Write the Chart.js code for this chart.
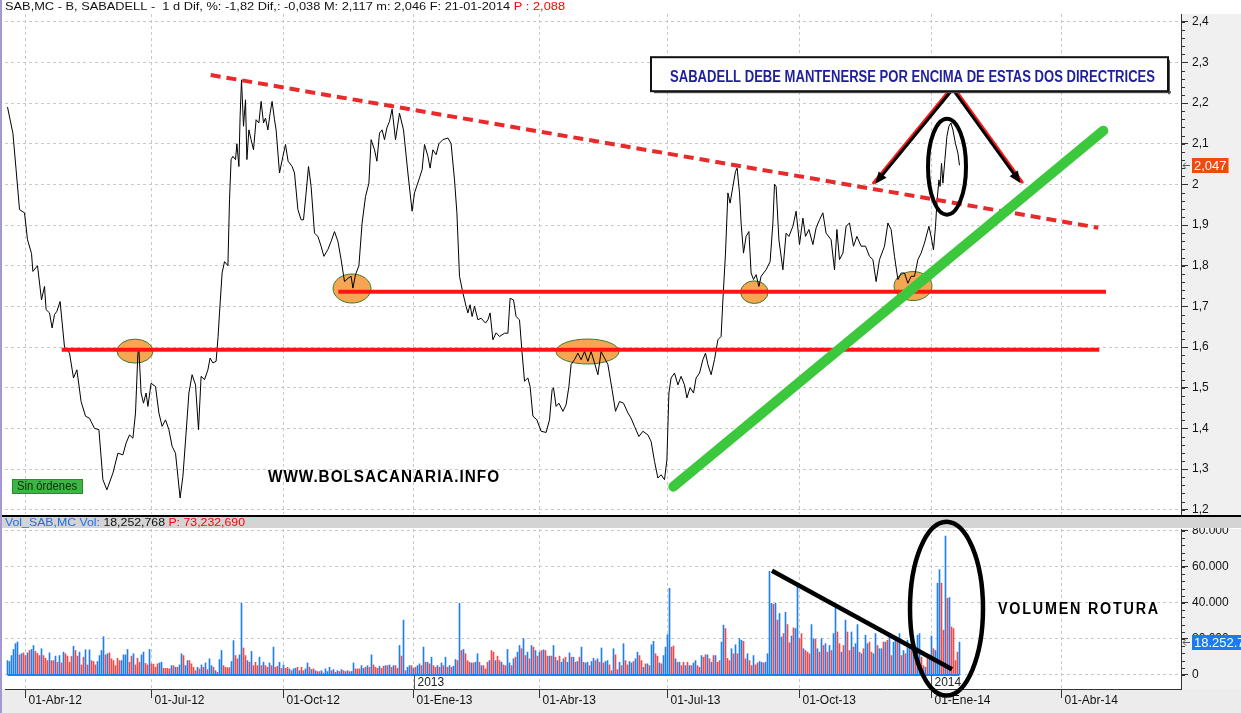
<!DOCTYPE html>
<html lang="es">
<head>
<meta charset="utf-8">
<title>SAB.MC - Sabadell</title>
<script src="https://cdn.jsdelivr.net/npm/chart.js@4.4.1/dist/chart.umd.min.js"></script>
<style>
  html, body { margin: 0; padding: 0; background: #fff; overflow: hidden; }
  #caja_precio { position: absolute; left: 0; top: 0; width: 1241px; height: 515px; }
  #caja_volumen { position: absolute; left: 0; top: 515px; width: 1241px; height: 198px; }
</style>
</head>
<body>
<div id="caja_precio"><canvas id="grafico_precio"></canvas></div>
<div id="caja_volumen"><canvas id="grafico_volumen"></canvas></div>
<script>
var fuente = '"Liberation Sans", Arial, sans-serif';

// eje de tiempo: dias de sesion desde el inicio de la serie
var trimestreDias = [9, 72, 138, 203, 266, 330, 396, 462, 527];
var trimestreEtiquetas = ['01-Abr-12', '01-Jul-12', '01-Oct-12', '01-Ene-13', '01-Abr-13', '01-Jul-13', '01-Oct-13', '01-Ene-14', '01-Abr-14'];
var anioDias = [203, 462];
var anioEtiquetas = ['2013', '2014'];

var precioTicks = [1.2, 1.3, 1.4, 1.5, 1.6, 1.7, 1.8, 1.9, 2.0, 2.1, 2.2, 2.3, 2.4];
var precioEtiquetas = ['1,2', '1,3', '1,4', '1,5', '1,6', '1,7', '1,8', '1,9', '2', '2,1', '2,2', '2,3', '2,4'];
var volumenTicks = [0, 20, 40, 60, 80];
var volumenEtiquetas = ['0', '20.000', '40.000', '60.000', '80.000'];

// cierre diario (EUR)
var precioDias = [
  0, 2.7, 4.3, 6, 8.5, 10, 12, 12.7, 15, 17,
  18.5, 19.3, 21, 22.3, 23.5, 24.7, 26.3, 28.5, 31, 33,
  34.7, 36.8, 39, 41, 43.5, 45.7, 47.7, 49.7, 52.7, 55.2,
  57.7, 59.3, 61, 62.7, 64, 65.2, 65.7, 66.8, 68, 69.3,
  70.2, 71.8, 74, 75.7, 77.3, 79, 80.7, 82.3, 84, 85.2,
  86.3, 87.7, 89.3, 90.7, 92.3, 94, 95.5, 96.8, 98.5, 100.2,
  101.3, 102.7, 104.3, 105.3, 106, 107.3, 108.5, 110.2, 111, 111.8,
  112.7, 114, 114.7, 115.7, 116.3, 117, 118, 119, 119.7, 120.7,
  121.8, 123, 124.3, 125.7, 126.8, 128, 129, 130.2, 131.3, 132.3,
  133.5, 134.3, 136, 137.7, 139, 140.3, 142.3, 143.5, 145.2, 146.8,
  148, 149.3, 150.5, 151.8, 153.5, 155.2, 156.8, 158.2, 160.2, 161.8,
  163.5, 165.2, 166.8, 168.5, 170.2, 171.8, 172.7, 174, 175.7, 177.3,
  179, 180.7, 181.8, 183.5, 184.7, 186, 187.3, 188.5, 189.7, 191,
  192.3, 194, 196, 198, 200.2, 202.3, 203.5, 206, 207.3, 208.5,
  210.2, 211.3, 212.7, 214.3, 215.7, 217.7, 220.2, 221.8, 223.5, 224.7,
  226, 227.7, 229.3, 230.2, 231.3, 232.3, 233.5, 235.2, 236.8, 239,
  240.2, 241.3, 242.7, 244.3, 246, 248.5, 250.2, 251.3, 253, 254.3,
  256, 257.3, 258.5, 260.2, 261.3, 262.7, 264.7, 266.8, 269.3, 271,
  272.3, 273, 274.3, 275.7, 277.7, 279.3, 280.7, 281.8, 283.5, 285.2,
  286.8, 288.5, 290.2, 291.8, 293.5, 295.2, 296.8, 298.5, 300.2, 302.3,
  304, 306, 308, 310.2, 311.8, 313.5, 315.7, 317.7, 320.2, 321.8,
  323.5, 325.2, 326.8, 328.5, 329.7, 330.7, 331.8, 333.5, 335.2, 336.8,
  338.5, 339.7, 341.3, 343, 344.3, 346, 347.7, 349, 350.2, 351.8,
  353.5, 355.2, 356.8, 357.7, 359, 360.2, 361.3, 362.7, 364, 364.8,
  366, 366.8, 368, 369.3, 370.7, 371.8, 373, 374.3, 375.7, 376.8,
  379.3, 381.3, 382.7, 383.5, 384.3, 385.7, 387.7, 389.3, 390.7, 392.7,
  394.3, 396, 397.7, 399, 400.7, 402.7, 404.3, 406, 407.7, 409.3,
  411.8, 413.5, 414.7, 416, 417.7, 419.3, 421, 423, 424.7, 426.8,
  429, 431, 432.7, 434.3, 436, 438.5, 440.2, 441.8, 443.5, 445.2,
  446.8, 448.5, 450.2, 451.8, 453.5, 455.2, 456.8, 458.5, 460.7, 461.8,
  463, 464, 464.7, 465.7, 466.3, 467, 467.7, 468.7, 469.7, 470.7,
  471.7, 472.7, 474, 475.2, 476
];
var precioValores = [
  2.19, 2.126, 2.036, 1.938, 1.93, 1.864, 1.83, 1.786, 1.80, 1.716,
  1.749, 1.692, 1.684, 1.647, 1.68, 1.688, 1.712, 1.60, 1.585, 1.524,
  1.544, 1.466, 1.43, 1.425, 1.40, 1.397, 1.274, 1.249, 1.29, 1.339,
  1.335, 1.364, 1.384, 1.376, 1.438, 1.585, 1.593, 1.487, 1.462, 1.487,
  1.454, 1.511, 1.503, 1.438, 1.405, 1.421, 1.397, 1.356, 1.339, 1.282,
  1.229, 1.282, 1.389, 1.487, 1.532, 1.507, 1.397, 1.528, 1.52, 1.544,
  1.573, 1.561, 1.565, 1.626, 1.684, 1.782, 1.81, 1.80, 1.962, 2.061,
  2.069, 2.061, 2.10, 2.044, 2.167, 2.257, 2.143, 2.208, 2.061, 2.134,
  2.11, 2.085, 2.159, 2.151, 2.204, 2.151, 2.163, 2.134, 2.175, 2.204,
  2.159, 2.134, 2.028, 2.069, 2.098, 2.057, 2.044, 2.028, 1.938, 1.913,
  1.913, 1.979, 2.044, 1.995, 1.88, 1.872, 1.848, 1.823, 1.84, 1.86,
  1.884, 1.86, 1.815, 1.761, 1.769, 1.774, 1.745, 1.778, 1.80, 1.905,
  1.97, 2.003, 2.11, 2.085, 2.057, 2.126, 2.134, 2.11, 2.139, 2.155,
  2.185, 2.11, 2.175, 2.134, 2.028, 1.934, 1.979, 2.016, 2.036, 2.098,
  2.069, 2.04, 2.085, 2.073, 2.10, 2.11, 2.114, 2.10, 2.011, 1.93,
  1.774, 1.733, 1.70, 1.684, 1.704, 1.675, 1.70, 1.667, 1.671, 1.659,
  1.667, 1.684, 1.618, 1.635, 1.626, 1.634, 1.634, 1.72, 1.716, 1.675,
  1.667, 1.585, 1.516, 1.524, 1.503, 1.43, 1.421, 1.393, 1.39, 1.421,
  1.495, 1.5, 1.454, 1.462, 1.442, 1.458, 1.503, 1.557, 1.569, 1.585,
  1.569, 1.589, 1.565, 1.589, 1.561, 1.532, 1.589, 1.573, 1.557, 1.495,
  1.442, 1.466, 1.462, 1.438, 1.425, 1.405, 1.38, 1.393, 1.384, 1.368,
  1.319, 1.278, 1.286, 1.274, 1.323, 1.487, 1.524, 1.536, 1.507, 1.528,
  1.507, 1.475, 1.50, 1.487, 1.524, 1.536, 1.569, 1.585, 1.557, 1.532,
  1.569, 1.618, 1.626, 1.716, 1.831, 1.979, 1.954, 1.995, 2.032, 2.04,
  1.979, 1.905, 1.831, 1.872, 1.884, 1.782, 1.766, 1.778, 1.749, 1.774,
  1.79, 1.81, 1.905, 2.0, 1.995, 1.864, 1.79, 1.88, 1.872, 1.897,
  1.934, 1.852, 1.917, 1.872, 1.889, 1.852, 1.893, 1.913, 1.93, 1.88,
  1.864, 1.79, 1.889, 1.815, 1.831, 1.897, 1.905, 1.848, 1.872, 1.848,
  1.848, 1.823, 1.815, 1.761, 1.815, 1.848, 1.905, 1.889, 1.823, 1.766,
  1.782, 1.782, 1.757, 1.774, 1.774, 1.815, 1.831, 1.856, 1.897, 1.872,
  1.839, 1.897, 1.954, 2.011, 1.995, 2.052, 2.003, 2.061, 2.118, 2.143,
  2.151, 2.134, 2.10, 2.077, 2.047
];

// volumen diario en millones de titulos, una sesion por valor
var volumen = [
  8.0, 7.5, 10.8, 14.2, 17.4, 18.3, 11.2, 11.8, 12.3, 10.8,
  12.3, 13.6, 14.2, 16.4, 13.1, 12.0, 10.8, 14.6, 10.8, 9.3,
  8.0, 12.3, 8.0, 8.0, 10.5, 7.1, 10.8, 6.7, 12.7,
  11.8, 10.5, 7.1, 10.3, 16.0, 13.6, 10.5, 12.7, 5.6, 9.9,
  14.0, 5.6, 14.0, 8.0, 7.5, 5.6, 7.5, 10.8, 13.6,
  21.3, 11.2, 11.8, 12.3, 9.0, 8.0, 5.2, 9.3, 8.0, 8.0,
  11.2, 11.2, 14.2, 7.1, 10.5, 11.8, 5.6, 9.3, 7.1, 11.2,
  12.7, 6.5, 5.6, 14.2, 6.2, 6.0, 4.3, 6.2, 6.7,
  7.1, 3.7, 3.7, 3.7, 3.4, 5.2, 5.2, 4.3, 4.3, 5.6,
  11.8, 10.8, 5.2, 8.0, 8.0, 6.2, 4.3, 2.4, 4.3,
  3.4, 5.6, 4.3, 6.7, 3.0, 9.0, 5.2, 4.3, 2.4,
  1.5, 8.6, 13.6, 5.2, 4.3, 4.1, 4.1, 7.5, 19.1, 10.8,
  9.0, 11.2, 39.8, 15.0, 10.8, 8.0, 7.1, 13.1, 5.2, 7.1,
  5.2, 9.9, 5.2, 7.1, 5.2, 4.3, 6.7, 5.2, 15.5, 4.3,
  4.9, 7.1, 3.7, 5.6, 3.7, 4.3, 3.4, 2.4, 3.4,
  3.7, 4.3, 2.4, 4.3, 2.4, 3.4, 6.7, 4.3, 3.0, 3.4,
  2.4, 1.9, 1.9, 2.4, 1.1, 3.4, 1.9, 4.3, 2.4,
  3.0, 1.5, 2.4, 1.9, 3.0, 2.4, 1.9, 2.4, 1.9,
  1.9, 6.7, 3.4, 3.4, 3.4, 5.2, 3.7, 4.3, 5.2, 4.3,
  11.2, 5.6, 4.3, 3.7, 4.9, 3.7, 4.9, 5.2, 5.2,
  5.6, 4.3, 5.2, 5.2, 3.7, 16.4, 10.5, 30.5, 2.4, 4.3,
  5.2, 5.2, 3.7, 4.3, 5.2, 6.2, 5.2, 15.5, 7.1,
  7.1, 6.2, 9.9, 5.2, 4.3, 5.2, 4.3, 6.7, 5.2, 9.9,
  4.3, 5.2, 4.3, 4.9, 8.6, 8.0, 39.8, 13.6, 14.2, 11.8,
  8.0, 7.1, 6.7, 6.7, 7.1, 11.8, 7.1, 5.2, 5.2, 3.4,
  7.1, 8.0, 13.6, 12.7, 8.0, 10.5, 8.0, 7.1, 5.6,
  5.2, 14.2, 6.7, 5.2, 9.0, 9.9, 12.7, 16.4, 14.6,
  20.2, 10.8, 12.7, 9.0, 16.4, 15.5, 13.6, 10.5, 12.7, 13.6,
  14.0, 13.6, 10.5, 10.5, 10.5, 16.4, 9.9, 8.0, 10.5, 7.1,
  9.0, 9.9, 7.1, 12.3, 9.9, 9.9, 7.1, 7.5, 9.9,
  15.5, 7.1, 6.7, 7.1, 5.2, 7.5, 9.3, 8.0, 9.0, 7.1,
  15.0, 6.7, 7.5, 8.0, 5.6, 2.4, 14.6, 11.2, 3.0, 7.1,
  5.2, 17.4, 8.0, 5.6, 7.5, 6.7, 7.5, 9.0, 12.7,
  10.8, 8.0, 4.3, 6.2, 6.2, 5.2, 16.8, 18.7, 11.8, 10.5,
  6.7, 6.2, 10.8, 15.5, 22.4, 48.2, 15.5, 16.1, 9.0, 7.1,
  7.1, 5.2, 7.1, 5.2, 7.1, 5.2, 5.2, 6.7, 8.0, 5.2,
  4.3, 10.8, 9.9, 11.2, 11.2, 9.0, 7.1, 10.8, 10.8,
  7.1, 8.0, 18.3, 27.7, 25.8, 9.3, 8.0, 14.6, 11.8, 16.8,
  11.8, 20.2, 19.3, 18.7, 9.0, 11.8, 8.0, 5.2, 10.8, 5.6,
  6.7, 7.5, 7.1, 6.7, 7.1, 11.8, 57.6, 39.8, 39.3,
  39.8, 30.5, 34.2, 21.1, 23.0, 34.8, 28.0, 17.9, 21.7,
  26.2, 25.8, 50.1, 20.2, 23.0, 14.6, 13.6, 12.7, 11.8, 28.0,
  20.2, 19.8, 14.6, 12.7, 20.2, 16.4, 17.4, 12.7, 16.4,
  13.6, 23.0, 37.0, 23.9, 17.4, 12.7, 16.4, 30.5, 23.9, 13.6,
  23.9, 15.5, 17.4, 28.0, 12.7, 11.8, 14.6, 22.1, 17.4, 18.3,
  12.7, 11.8, 23.0, 16.4, 14.6, 14.6, 18.3, 18.3, 19.3,
  21.1, 10.8, 18.3, 20.2, 19.3, 23.0, 10.8, 13.6, 11.8, 19.3,
  16.4, 16.4, 14.6, 15.5, 22.1, 23.0, 9.9, 5.2, 4.3,
  10.8, 11.2, 21.7, 14.6, 13.6, 51.0, 58.5, 51.0, 24.9, 77.2,
  42.6, 43.0, 26.7, 25.8, 8.0, 12.7, 18.252768
];
// B = sesion alcista (azul), R = bajista (rojo)
var volumenColor = (
  'BBBBBBRBRR' + 'BRBBRRRBRR' + 'RBRRBRBRB' + 'RRRRBRRBRR' + 'BRBRRRBBB' +
  'BRBRRRRRRB' + 'BBBRRBRRRB' + 'BRRBRRRRB' + 'BRRRRBRBRB' + 'BRBBRRRRB' +
  'RBRBRBBRB' + 'RBBRRRRBBR' + 'RBBRRBRBRR' + 'RBRBRRBRBR' + 'RBRBRRBRB' +
  'BRBRRBBRBR' + 'BRRBRBBBR' + 'BRBRBRRBR' + 'BBRRRBBRBR' + 'BRRRBRRBR' +
  'BRBRRBRBRB' + 'BRBRBBRBR' + 'BRBRRBRBRB' + 'RBRBBRBRBR' + 'RRBRBBRBRR' +
  'RBRRBRRBR' + 'RBBRBRBBR' + 'BRBRBRBRBR' + 'BRRBRBRBRB' + 'BRBBRBRBR' +
  'BRBBRBBRBR' +
  'BRBBRRBRRB' + 'RBRRBBRBB' + 'RRBRBRBBRR' + 'BRBBBBRRBR' + 'BRRBRBRBBR' +
  'RBRRBRBRB' + 'RRBBRRRBRB' + 'RBBRRBRRBR' + 'RBBRBBBBR' + 'BRBBRBRRB' +
  'RBBRRBRRRB' + 'BRBRBRBRB' + 'RBBRRBRBRR' + 'BRBBRBRBBR' + 'RBBRBBRBR' +
  'BRBBRBRBRB' + 'BRBRBBRRB' + 'RBBRBBBRRB' + 'RBRRRRB'
).split('');

// directrices y marcas dibujadas sobre el grafico
var resistenciaDias = [101.6, 545.4];
var resistenciaPrecios = [2.269, 1.8935];
var soporteAltoDias = [165.4, 549.25];
var soporteAltoPrecios = [1.736, 1.736];
var soporteBajoDias = [27.1, 545.9];
var soporteBajoPrecios = [1.5935, 1.5935];
var directrizDias = [332.9, 547.9];
var directrizPrecios = [1.2567, 2.132];
var elipseDias = [63.75, 172.25, 290, 373.4, 452.75];
var elipsePrecios = [1.590, 1.744, 1.589, 1.735, 1.750];
var elipseRadioDias = [9, 9.5, 15.75, 6.85, 9.5];
var elipseRadioPrecios = [0.0295, 0.0357, 0.0307, 0.0278, 0.0357];
var volTendenciaDias = [382.25, 472.25];
var volTendenciaValores = [57.9, 3.2];

var azul = '#1f7ff0';
var rojo = '#f24848';

function pares(xs, ys) {
  return xs.map(function (x, i) { return { x: x, y: ys[i] }; });
}

function ejeX(conEtiquetas) {
  return {
    type: 'linear', min: -1.25, max: 586.75, offset: false,
    afterBuildTicks: function (s) { s.ticks = trimestreDias.map(function (v) { return { value: v }; }); },
    afterFit: function (s) { s.height = conEtiquetas ? 24 : 0; s.paddingLeft = 0; s.paddingRight = 0; },
    grid: { offset: false, color: '#c8c8c8', drawTicks: conEtiquetas, tickLength: 9, tickColor: '#333', tickBorderDash: [] },
    border: { display: conEtiquetas, color: '#333', dash: [3, 3] },
    ticks: {
      display: conEtiquetas, autoSkip: false, maxRotation: 0, align: 'start', labelOffset: 3, padding: -5,
      color: '#111', font: { family: fuente, size: 12 },
      callback: function (v, i) { return trimestreEtiquetas[i]; }
    }
  };
}

function ejeY(min, max, ticks, etiquetas) {
  return {
    position: 'right', min: min, max: max,
    afterBuildTicks: function (s) { s.ticks = ticks.map(function (v) { return { value: v }; }); },
    afterFit: function (s) { s.width = 60; s.paddingTop = 0; s.paddingBottom = 0; },
    grid: { color: '#c8c8c8', tickLength: 7, tickColor: '#333', tickBorderDash: [] },
    border: { display: true, color: '#333', dash: [3, 3] },
    ticks: {
      autoSkip: false, padding: 4, color: '#111', font: { family: fuente, size: 12 },
      callback: function (v, i) { return etiquetas[i]; }
    }
  };
}

function textoAncho(ctx, texto, x, y, ancho, font, color, espaciado) {
  ctx.save();
  ctx.font = font;
  ctx.letterSpacing = espaciado || '0px';
  var w = ctx.measureText(texto).width;
  ctx.translate(x, y);
  ctx.scale(ancho / w, 1);
  ctx.fillStyle = color;
  ctx.textAlign = 'left';
  ctx.textBaseline = 'middle';
  ctx.fillText(texto, 0, 0);
  ctx.restore();
}

function cabecera(ctx, partes, x, y, ancho) {
  ctx.save();
  ctx.font = '11px ' + fuente;
  var total = 0;
  partes.forEach(function (p) { total += ctx.measureText(p[0]).width; });
  ctx.translate(x, y);
  ctx.scale(ancho / total, 1);
  ctx.textBaseline = 'middle';
  var pos = 0;
  partes.forEach(function (p) {
    ctx.fillStyle = p[1];
    ctx.fillText(p[0], pos, 0);
    pos += ctx.measureText(p[0]).width;
  });
  ctx.restore();
}

function marcasMenores(ctx, escala, x0, desde, hasta, paso) {
  ctx.save();
  ctx.strokeStyle = '#333';
  ctx.lineWidth = 1;
  for (var v = desde; v <= hasta + 1e-9; v += paso) {
    var py = Math.round(escala.getPixelForValue(v)) + 0.5;
    ctx.beginPath();
    ctx.moveTo(x0, py);
    ctx.lineTo(x0 + 4, py);
    ctx.stroke();
  }
  ctx.restore();
}

function etiquetaValor(ctx, x0, py, texto, fondo) {
  ctx.save();
  ctx.strokeStyle = '#555';
  ctx.lineWidth = 1;
  ctx.beginPath();
  ctx.moveTo(x0 + 2, py + 0.5); ctx.lineTo(x0 + 9, py + 0.5);
  ctx.moveTo(x0 + 5, py - 2.5); ctx.lineTo(x0 + 2, py + 0.5); ctx.lineTo(x0 + 5, py + 3.5);
  ctx.stroke();
  ctx.font = '13px ' + fuente;
  var w = ctx.measureText(texto).width;
  ctx.fillStyle = fondo;
  ctx.fillRect(x0 + 11, py - 7, w + 4, 15);
  ctx.fillStyle = '#fff';
  ctx.textBaseline = 'middle';
  ctx.fillText(texto, x0 + 13, py + 1);
  ctx.restore();
}

function flecha(ctx, x1, y1, x2, y2, lado) {
  var ang = Math.atan2(y2 - y1, x2 - x1);
  ctx.save();
  ctx.lineCap = 'round';
  ctx.strokeStyle = '#ff1a1a';
  ctx.lineWidth = 3;
  ctx.beginPath();
  ctx.moveTo(x1 + lado * 1.5, y1 - 1);
  ctx.lineTo(x2 + lado * 1.5, y2 - 1);
  ctx.stroke();
  ctx.strokeStyle = '#000';
  ctx.lineWidth = 3;
  ctx.beginPath();
  ctx.moveTo(x1, y1);
  ctx.lineTo(x2 - 6 * Math.cos(ang), y2 - 6 * Math.sin(ang));
  ctx.stroke();
  ctx.fillStyle = '#000';
  ctx.beginPath();
  ctx.moveTo(x2, y2);
  ctx.lineTo(x2 - 12 * Math.cos(ang) + 5 * Math.sin(ang), y2 - 12 * Math.sin(ang) - 5 * Math.cos(ang));
  ctx.lineTo(x2 - 12 * Math.cos(ang) - 5 * Math.sin(ang), y2 - 12 * Math.sin(ang) + 5 * Math.cos(ang));
  ctx.closePath();
  ctx.fill();
  ctx.restore();
}

function bordeIzquierdo(ctx, alto) {
  ctx.save();
  ctx.fillStyle = '#a497d6';
  ctx.fillRect(0, 0, 2, alto);
  ctx.restore();
}

var dibujoPrecio = {
  id: 'dibujoPrecio',
  beforeDraw: function (chart) {
    var ctx = chart.ctx, a = chart.chartArea;
    ctx.save();
    ctx.fillStyle = '#fff';
    ctx.fillRect(0, 0, chart.width, chart.height);
    ctx.fillStyle = '#f0f0f0';
    ctx.fillRect(a.right, a.top, chart.width - a.right, chart.height - a.top);
    ctx.restore();
  },
  beforeDatasetsDraw: function (chart) {
    var ctx = chart.ctx, x = chart.scales.x, y = chart.scales.y;
    ctx.save();
    elipseDias.forEach(function (d, i) {
      var cx = x.getPixelForValue(d), cy = y.getPixelForValue(elipsePrecios[i]);
      var rx = x.getPixelForValue(d + elipseRadioDias[i]) - cx;
      var ry = cy - y.getPixelForValue(elipsePrecios[i] + elipseRadioPrecios[i]);
      ctx.beginPath();
      ctx.ellipse(cx, cy, rx, ry, 0, 0, Math.PI * 2);
      ctx.fillStyle = '#f6a652';
      ctx.fill();
      ctx.lineWidth = 1;
      ctx.strokeStyle = '#3d7a2c';
      ctx.stroke();
    });
    ctx.restore();
  },
  afterDraw: function (chart) {
    var ctx = chart.ctx, a = chart.chartArea, x = chart.scales.x, y = chart.scales.y;

    cabecera(ctx, [
      ['SAB,MC - B, SABADELL -  1 d Dif, %: -1,82 Dif,: -0,038 M: 2,117 m: 2,046 F: 21-01-2014 ', '#111'],
      ['P : 2,088', '#ff0000']
    ], 5, 7, 560);

    marcasMenores(ctx, y, a.right, 1.2, 2.4, 0.02);

    var ultimo = precioValores[precioValores.length - 1];
    etiquetaValor(ctx, a.right, Math.round(y.getPixelForValue(ultimo)), ultimo.toFixed(3).replace('.', ','), '#f04a10');

    // elipse negra sobre la ruptura
    ctx.save();
    ctx.lineWidth = 4;
    ctx.strokeStyle = '#000';
    var ecx = x.getPixelForValue(469.75), ecy = y.getPixelForValue(2.0435);
    ctx.beginPath();
    ctx.ellipse(ecx, ecy, x.getPixelForValue(479.25) - ecx, ecy - y.getPixelForValue(2.1615), 0, 0, Math.PI * 2);
    ctx.stroke();
    ctx.restore();

    var ax = x.getPixelForValue(472.6), ay = y.getPixelForValue(2.234);
    flecha(ctx, ax, ay, x.getPixelForValue(433.75), y.getPixelForValue(2.001), -1);
    flecha(ctx, ax, ay, x.getPixelForValue(506.6), y.getPixelForValue(2.003), 1);

    // recuadro de texto
    var bx1 = x.getPixelForValue(321.75), bx2 = x.getPixelForValue(580.25);
    var by1 = y.getPixelForValue(2.3127), by2 = y.getPixelForValue(2.2291);
    ctx.save();
    ctx.fillStyle = '#fff';
    ctx.fillRect(bx1, by1, bx2 - bx1, by2 - by1);
    ctx.fillStyle = '#555';
    ctx.fillRect(bx1 + 3, by2, bx2 - bx1, 2);
    ctx.fillRect(bx2, by1 + 3, 2, by2 - by1);
    ctx.strokeStyle = '#111';
    ctx.lineWidth = 2;
    ctx.strokeRect(bx1, by1, bx2 - bx1, by2 - by1);
    ctx.restore();
    textoAncho(ctx, 'SABADELL DEBE MANTENERSE POR ENCIMA DE ESTAS DOS DIRECTRICES',
      x.getPixelForValue(331.25), y.getPixelForValue(2.2616), x.getPixelForValue(573.75) - x.getPixelForValue(331.25),
      'bold 16px ' + fuente, '#1e1ea0');

    textoAncho(ctx, 'WWW.BOLSACANARIA.INFO', x.getPixelForValue(130.25), y.getPixelForValue(1.2793),
      x.getPixelForValue(246.25) - x.getPixelForValue(130.25), 'bold 16px ' + fuente, '#000', '1px');

    // indicador de ordenes
    ctx.save();
    ctx.fillStyle = '#3cb544';
    ctx.fillRect(a.left + 7, a.bottom - 35, 71, 15);
    ctx.strokeStyle = '#2a8a2e';
    ctx.lineWidth = 1;
    ctx.strokeRect(a.left + 7.5, a.bottom - 34.5, 70, 14);
    ctx.restore();
    textoAncho(ctx, 'Sin órdenes', a.left + 12, a.bottom - 27, 60, '12px ' + fuente, '#0c2a0c');

    bordeIzquierdo(ctx, chart.height);
  }
};

var dibujoVolumen = {
  id: 'dibujoVolumen',
  beforeDraw: function (chart) {
    var ctx = chart.ctx, a = chart.chartArea;
    ctx.save();
    ctx.fillStyle = '#fff';
    ctx.fillRect(0, 0, chart.width, chart.height);
    ctx.fillStyle = '#f0f0f0';
    ctx.fillRect(a.right, a.top, chart.width - a.right, a.bottom - a.top);
    ctx.fillStyle = '#ececec';
    ctx.fillRect(0, a.bottom, chart.width, chart.height - a.bottom);
    ctx.restore();
  },
  afterDraw: function (chart) {
    var ctx = chart.ctx, a = chart.chartArea, x = chart.scales.x, y = chart.scales.y;

    ctx.save();
    ctx.fillStyle = '#000';
    ctx.fillRect(0, 0, chart.width, 2);
    ctx.fillStyle = '#d4d4d4';
    ctx.fillRect(0, 2, chart.width, 11);
    ctx.restore();
    cabecera(ctx, [
      ['Vol_SAB,MC Vol: ', '#1e6ee8'],
      ['18,252,768 ', '#111'],
      ['P: 73,232,690', '#ff0000']
    ], 5, 8, 240);

    marcasMenores(ctx, y, a.right, 0, 80, 4);

    var ultimo = volumen[volumen.length - 1];
    etiquetaValor(ctx, a.right, Math.round(y.getPixelForValue(ultimo)), Math.round(ultimo * 1e6).toLocaleString('de-DE'), '#1a7cf0');

    // marcas de cambio de anio
    ctx.save();
    ctx.strokeStyle = '#555';
    ctx.lineWidth = 1;
    ctx.fillStyle = '#222';
    ctx.font = '12px ' + fuente;
    ctx.textBaseline = 'middle';
    anioDias.forEach(function (d, i) {
      var px = Math.round(x.getPixelForValue(d)) + 0.5;
      ctx.beginPath();
      ctx.moveTo(px, y.getPixelForValue(0));
      ctx.lineTo(px, a.bottom);
      ctx.stroke();
      ctx.fillText(anioEtiquetas[i], px + 3, y.getPixelForValue(0) + 8);
    });
    ctx.restore();

    // elipse de volumen de rotura
    ctx.save();
    ctx.lineWidth = 4.5;
    ctx.strokeStyle = '#000';
    var ecx = x.getPixelForValue(469.5), ecy = y.getPixelForValue(36.9);
    ctx.beginPath();
    ctx.ellipse(ecx, ecy, x.getPixelForValue(487.75) - ecx, ecy - y.getPixelForValue(85.2), 0, 0, Math.PI * 2);
    ctx.stroke();
    ctx.restore();

    textoAncho(ctx, 'VOLUMEN ROTURA', x.getPixelForValue(495.25), y.getPixelForValue(36.4),
      x.getPixelForValue(576.25) - x.getPixelForValue(495.25), 'bold 16px ' + fuente, '#000', '2px');

    bordeIzquierdo(ctx, chart.height);
  }
};

var graficoPrecio = new Chart(document.getElementById('grafico_precio').getContext('2d'), {
  type: 'line',
  data: {
    datasets: [{
      label: 'Directriz alcista',
      data: pares(directrizDias, directrizPrecios),
      borderColor: '#3cc83c', borderWidth: 10, borderCapStyle: 'round', pointRadius: 0, order: 0
    }, {
      label: 'Soporte 1,73',
      data: pares(soporteAltoDias, soporteAltoPrecios),
      borderColor: '#ff1414', borderWidth: 4, pointRadius: 0, order: 1
    }, {
      label: 'Soporte 1,59',
      data: pares(soporteBajoDias, soporteBajoPrecios),
      borderColor: '#ff1414', borderWidth: 4, pointRadius: 0, order: 1
    }, {
      label: 'Directriz bajista',
      data: pares(resistenciaDias, resistenciaPrecios),
      borderColor: '#e82a2a', borderWidth: 4, borderDash: [10, 6], pointRadius: 0, order: 2
    }, {
      label: 'SAB.MC',
      data: pares(precioDias, precioValores),
      borderColor: '#000', borderWidth: 1, pointRadius: 0, tension: 0, order: 3
    }]
  },
  options: {
    responsive: true,
    maintainAspectRatio: false,
    devicePixelRatio: 1,
    animation: false,
    events: [],
    layout: { padding: { left: 5, top: 14, right: 0, bottom: 1 } },
    plugins: { legend: { display: false }, tooltip: { enabled: false } },
    scales: {
      x: ejeX(false),
      y: ejeY(1.18952, 2.41893, precioTicks, precioEtiquetas)
    }
  },
  plugins: [dibujoPrecio]
});

var diasVolumen = volumen.map(function (v, i) { return i; });

var graficoVolumen = new Chart(document.getElementById('grafico_volumen').getContext('2d'), {
  type: 'bar',
  data: {
    datasets: [{
      type: 'line',
      label: 'Tendencia volumen',
      data: pares(volTendenciaDias, volTendenciaValores),
      borderColor: '#000', borderWidth: 4.5, pointRadius: 0, order: 0
    }, {
      type: 'line',
      label: 'Base',
      data: pares([0, volumen.length - 1], [0, 0]),
      borderColor: azul, borderWidth: 2, pointRadius: 0, order: 1
    }, {
      type: 'bar',
      label: 'Volumen',
      data: pares(diasVolumen, volumen),
      backgroundColor: volumenColor.map(function (c) { return c === 'B' ? azul : rojo; }),
      barThickness: 1, borderWidth: 0, grouped: false, order: 2
    }]
  },
  options: {
    responsive: true,
    maintainAspectRatio: false,
    devicePixelRatio: 1,
    animation: false,
    events: [],
    layout: { padding: { left: 5, top: 14, right: 0, bottom: 0 } },
    plugins: { legend: { display: false }, tooltip: { enabled: false } },
    scales: {
      x: ejeX(true),
      y: ejeY(-7.78, 81.11, volumenTicks, volumenEtiquetas)
    }
  },
  plugins: [dibujoVolumen]
});
</script>
</body>
</html>
